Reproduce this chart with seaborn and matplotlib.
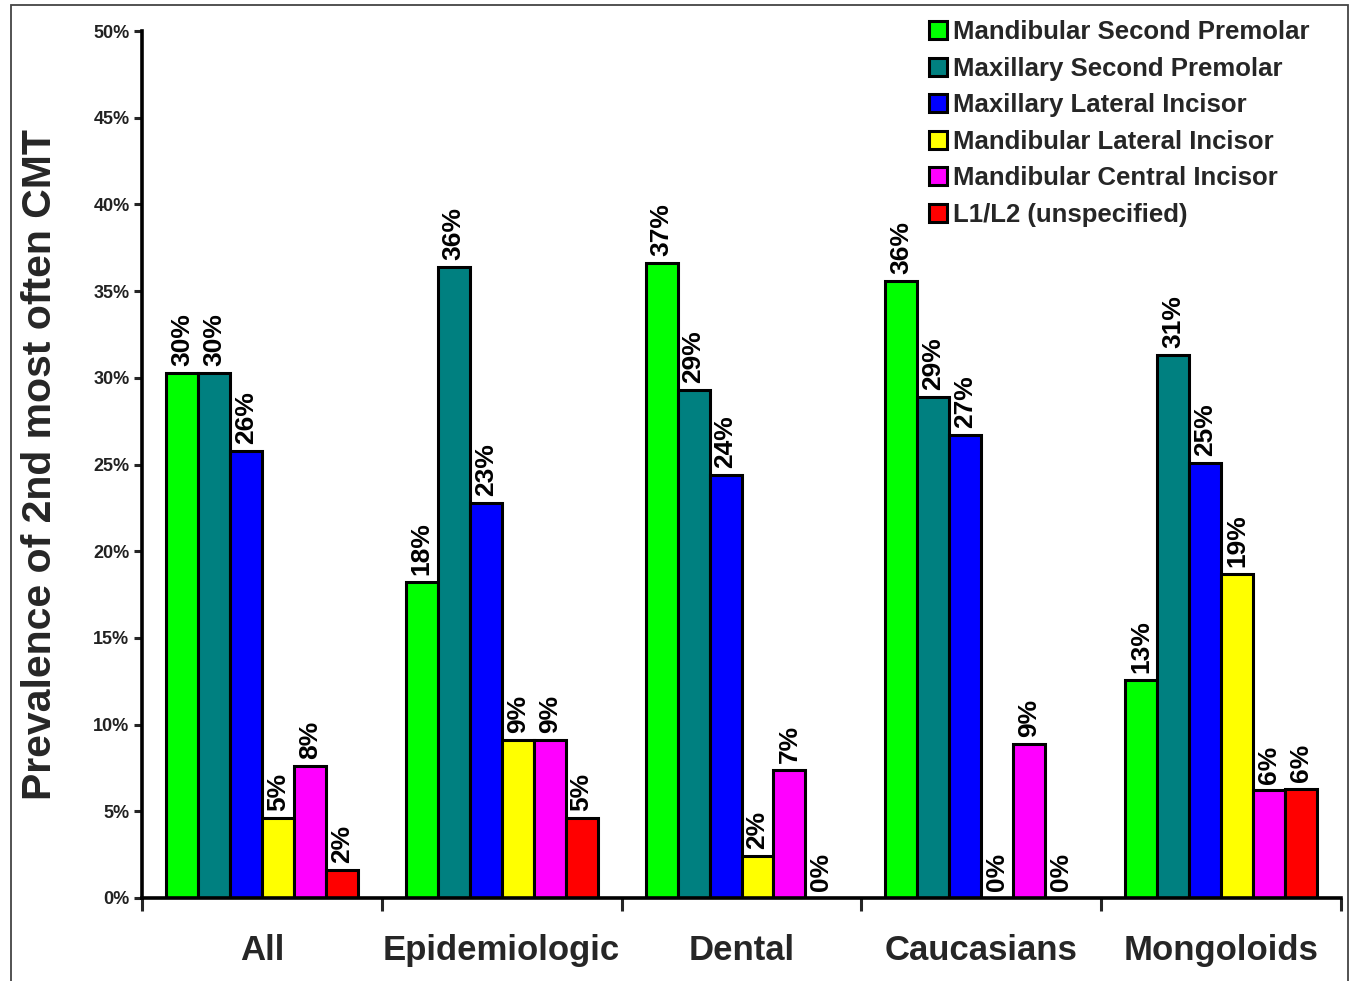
import matplotlib
matplotlib.use("Agg")
import matplotlib.pyplot as plt
import matplotlib.patches as mpatches
import numpy as np
import pandas as pd
import seaborn as sns

# Study groups on the x axis
groups = ["All", "Epidemiologic", "Dental", "Caucasians", "Mongoloids"]

# Tooth types (hue levels)
teeth = [
    "Mandibular Second Premolar",
    "Maxillary Second Premolar",
    "Maxillary Lateral Incisor",
    "Mandibular Lateral Incisor",
    "Mandibular Central Incisor",
    "L1/L2 (unspecified)",
]
tooth_colors = ["#00FF00", "#008080", "#0000FF", "#FFFF00", "#FF00FF", "#FF0000"]

# Prevalence (%) of each tooth as 2nd most often congenitally missing tooth
mand_second_premolar = [30.3, 18.2, 36.6, 35.6, 12.6]
max_second_premolar = [30.3, 36.4, 29.3, 28.9, 31.3]
max_lateral_incisor = [25.8, 22.8, 24.4, 26.7, 25.1]
mand_lateral_incisor = [4.6, 9.1, 2.4, 0.0, 18.7]
mand_central_incisor = [7.6, 9.1, 7.4, 8.9, 6.2]
l1_l2_unspecified = [1.6, 4.6, 0.0, 0.0, 6.3]

y_ticks = [0, 5, 10, 15, 20, 25, 30, 35, 40, 45, 50]
y_tick_labels = ["0%", "5%", "10%", "15%", "20%", "25%", "30%", "35%", "40%", "45%", "50%"]

series = [mand_second_premolar, max_second_premolar, max_lateral_incisor,
          mand_lateral_incisor, mand_central_incisor, l1_l2_unspecified]
rows = []
for tooth, vals in zip(teeth, series):
    for g, v in zip(groups, vals):
        rows.append({"group": g, "tooth": tooth, "value": v})
df = pd.DataFrame(rows)

sns.set_style("white")
plt.rcParams["font.family"] = ["Liberation Sans", "DejaVu Sans"]
plt.rcParams["font.weight"] = "bold"

W, H = 1351, 981
fig = plt.figure(figsize=(W / 100, H / 100), dpi=100)
ax = fig.add_axes([142 / W, 1 - 898 / H, (1341 - 142) / W, (898 - 31) / H])

sns.barplot(data=df, x="group", y="value", hue="tooth", order=groups,
            hue_order=teeth, palette=tooth_colors, saturation=1, width=0.8, gap=0,
            edgecolor="black", linewidth=2.2, errorbar=None, legend=False, ax=ax)

# Value labels above each bar
for cont in ax.containers:
    ax.bar_label(cont, fmt=lambda v: f"{v:.0f}%", rotation=90, padding=5,
                 fontsize=19, fontweight="bold", color="black")

ax.set_xlim(-0.5, len(groups) - 0.5)
ax.set_ylim(0, 50)
ax.set_yticks(y_ticks)
ax.set_yticklabels(y_tick_labels, fontsize=13, fontweight="bold", color="#222222")
ax.tick_params(axis="y", direction="out", length=6, width=2.2, left=True, pad=3)

# Group boundary ticks as major ticks; category names on minor ticks
ax.set_xticks(np.arange(-0.5, len(groups), 1.0))
ax.set_xticklabels([])
ax.set_xticks(np.arange(len(groups)), minor=True)
ax.set_xticklabels(groups, minor=True, fontsize=25, fontweight="bold")
ax.tick_params(axis="x", which="major", direction="out", length=9, width=2.2, bottom=True)
ax.tick_params(axis="x", which="minor", length=0, pad=26)

ax.set_xlabel("")
ax.set_ylabel("Prevalence of 2nd most often CMT", fontsize=29.5, fontweight="bold", labelpad=25)

for side in ["top", "right"]:
    ax.spines[side].set_visible(False)
for side in ["left", "bottom"]:
    ax.spines[side].set_linewidth(2.6)
    ax.spines[side].set_color("black")

handles = [mpatches.Patch(facecolor=c, edgecolor="black", linewidth=2.2, label=t)
           for c, t in zip(tooth_colors, teeth)]
leg = ax.legend(handles=handles, loc="upper left",
                bbox_to_anchor=(929 / W, 1 - 20 / H), bbox_transform=fig.transFigure,
                frameon=False, borderpad=0, borderaxespad=0,
                handlelength=0.7, handleheight=0.7, handletextpad=0.25,
                labelspacing=0.49, prop={"size": 18.5, "weight": "bold"})

# Thin outer frame
frame = mpatches.Rectangle((11 / W, -0.02), (1348 - 11) / W, 1.02 - 5 / H,
                           transform=fig.transFigure, fill=False,
                           edgecolor="#444444", linewidth=1.3, clip_on=False)
fig.add_artist(frame)

fig.savefig("out.png", dpi=100)
